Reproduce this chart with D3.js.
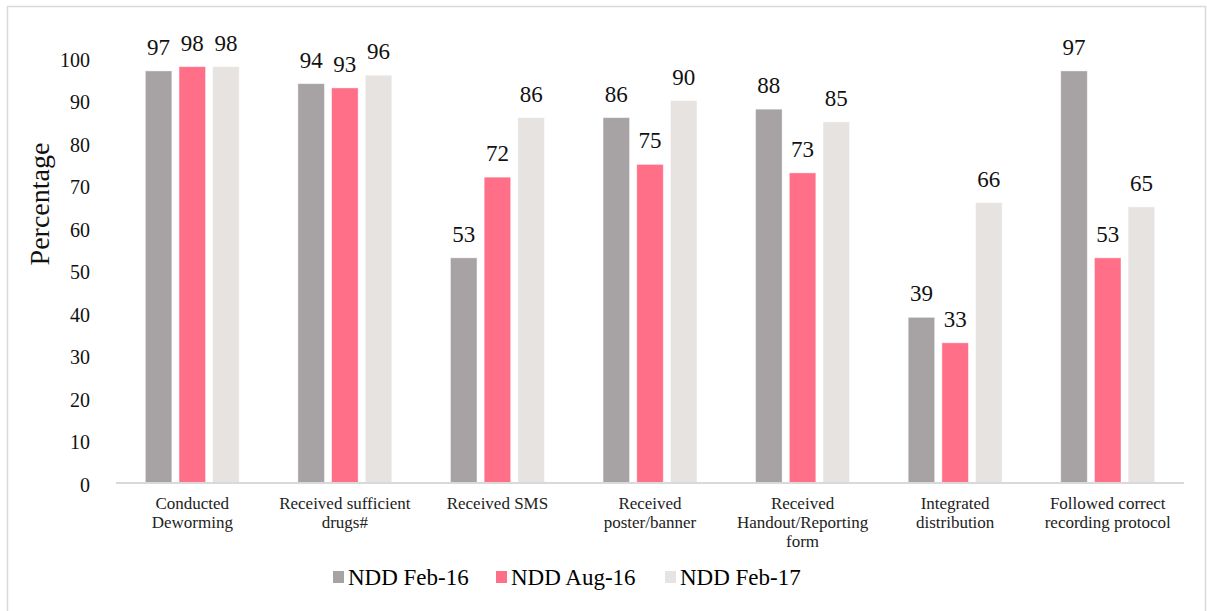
<!DOCTYPE html>
<html><head><meta charset="utf-8">
<script src="https://cdn.jsdelivr.net/npm/d3@7"></script>
<style>body{margin:0;background:#fff}</style>
</head><body>
<svg id="c" width="1207" height="611"></svg>
<script>
const categories = [
  ["Conducted","Deworming"],
  ["Received sufficient","drugs#"],
  ["Received SMS"],
  ["Received","poster/banner"],
  ["Received","Handout/Reporting","form"],
  ["Integrated","distribution"],
  ["Followed correct","recording protocol"]
];
const seriesNames = ["NDD Feb-16","NDD Aug-16","NDD Feb-17"];
const feb16 = [97,94,53,86,88,39,97];
const aug16 = [98,93,72,75,73,33,53];
const feb17 = [98,96,86,90,85,66,65];
const yTicks = [0,10,20,30,40,50,60,70,80,90,100];
const colors = ["#a7a3a4","#ff6f88","#e7e3e1"];
const series = [feb16,aug16,feb17];

const svg = d3.select("#c");
const font = "'Liberation Serif', serif";
svg.append("rect").attr("x",7.5).attr("y",6.5).attr("width",1198).attr("height",620)
  .attr("fill","#fff").attr("stroke","#d9d9d9").attr("stroke-width",1.5);

const m = {l:116, r:1184, t:58.2, b:483};
const x = d3.scaleBand().domain(d3.range(categories.length)).range([m.l,m.r]).paddingInner(0).paddingOuter(0);
const y = d3.scaleLinear().domain([0,100]).range([m.b,m.t]);
const barW = 26.5, step = 33.7;

const g = svg.append("g");
series.forEach((vals,si)=>{
  g.selectAll(null).data(vals).enter().append("rect")
    .attr("x",(d,i)=>x(i)+x.bandwidth()/2 + (si-1)*step - barW/2)
    .attr("y",d=>y(d)).attr("width",barW).attr("height",d=>y(0)-y(d))
    .attr("fill",colors[si]).attr("stroke","#fff").attr("stroke-opacity",0.5).attr("stroke-width",0.8);
  g.selectAll(null).data(vals).enter().append("text")
    .attr("x",(d,i)=>x(i)+x.bandwidth()/2 + (si-1)*step)
    .attr("y",d=>y(d)-16).attr("text-anchor","middle")
    .style("font-family",font).style("font-size","23px").attr("fill","#111")
    .text(d=>d);
});

// axis line
svg.append("line").attr("x1",m.l).attr("x2",m.r).attr("y1",y(0)).attr("y2",y(0))
  .attr("stroke","#d9d9d9").attr("stroke-width",2);

// y ticks
const ya = svg.append("g").attr("transform",`translate(${m.l},0)`)
  .call(d3.axisLeft(y).tickValues(yTicks).tickSize(0).tickPadding(26));
ya.select(".domain").remove();
ya.selectAll("text").style("font-family",font).style("font-size","20px").attr("fill","#111").attr("dy","0.4em");

// x labels
categories.forEach((lines,i)=>{
  const t = svg.append("text").attr("x",x(i)+x.bandwidth()/2).attr("y",509)
    .attr("text-anchor","middle").style("font-family",font).style("font-size","17px").attr("fill","#222");
  lines.forEach((ln,j)=>t.append("tspan").attr("x",x(i)+x.bandwidth()/2).attr("dy",j?19:0).text(ln));
});

// y title
svg.append("text").attr("transform","translate(49,204) rotate(-90)").attr("text-anchor","middle")
  .style("font-family",font).style("font-size","28px").attr("fill","#111").text("Percentage");

// legend
const lx = [333,496,665];
seriesNames.forEach((n,i)=>{
  svg.append("rect").attr("x",lx[i]).attr("y",571).attr("width",11).attr("height",12).attr("fill",colors[i]);
  svg.append("text").attr("x",lx[i]+15).attr("y",585).style("font-family",font).style("font-size","23px")
    .attr("fill","#000").text(n);
});
</script>
</body></html>
